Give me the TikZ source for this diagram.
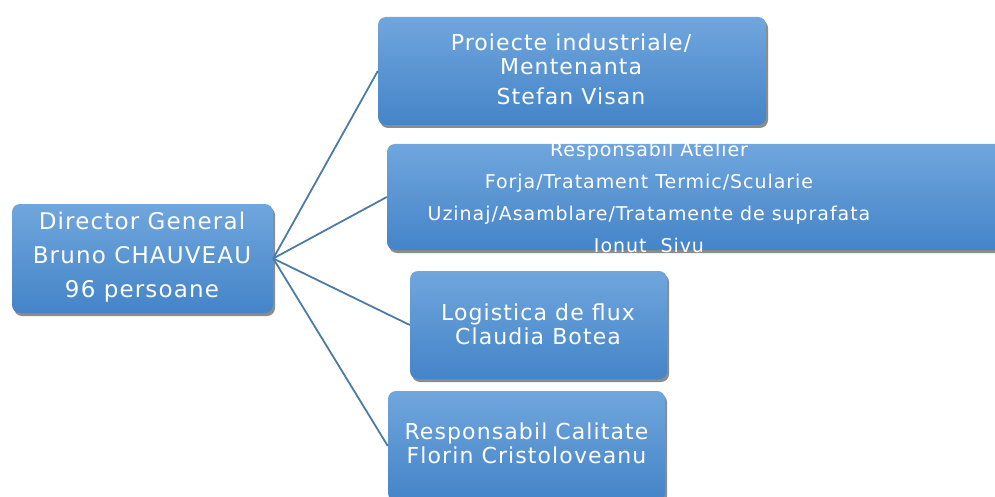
\documentclass[tikz,border=0pt]{standalone}
\usepackage{fontspec}
\setmainfont{DejaVu Sans}[LetterSpace=5]
\usepackage{tikz}
\usetikzlibrary{shadows}
\definecolor{boxtop}{RGB}{112,166,221}
\definecolor{boxbot}{RGB}{68,132,200}
\definecolor{linkcol}{RGB}{76,124,166}

\begin{document}
\begin{tikzpicture}[x=1pt,y=-1pt,
  card/.style={rectangle, rounded corners=8pt, top color=boxtop, bottom color=boxbot, inner sep=0pt,
    drop shadow={shadow xshift=2pt, shadow yshift=-3pt, fill=black, opacity=0.45}},
  txt/.style={text=white, align=center, inner sep=0pt, font=\fontsize{22}{24}\selectfont},
  link/.style={draw=linkcol, line width=1.8pt}]
\useasboundingbox (0,0) rectangle (995,497);
% Boxes
\node[card, minimum width=261pt, minimum height=109pt] (dir) at (142.5,258.5) {};
\node[card, minimum width=388pt, minimum height=108pt] (pro) at (572,71) {};
\node[card, minimum width=630pt, minimum height=106pt] (ate) at (702,197) {};
\node[card, minimum width=257pt, minimum height=108pt] (log) at (538.5,325) {};
\node[card, minimum width=277pt, minimum height=110pt] (cal) at (526.5,446) {};

%Lines
\draw[link] (dir.east) -- (pro.west);
\draw[link] (dir.east) -- (ate.west);
\draw[link] (dir.east) -- (log.west);
\draw[link] (dir.east) -- (cal.west);

% Texts
\node[txt, font=\fontsize{23}{34}\selectfont] (dirt) at (142,257) {Director General\\Bruno CHAUVEAU\\96 persoane};
\node[txt] (prot) at (571,69) {Proiecte industriale/\\Mentenanta\\[6pt]Stefan Visan};
\node[txt, font=\fontsize{19}{32}\selectfont] (atet) at (649,197.5) {Responsabil Atelier\\Forja/Tratament Termic/Scularie\\Uzinaj/Asamblare/Tratamente de suprafata\\Ionut\ \ Sivu};
\node[txt] (logt) at (538,324) {Logistica de flux\\Claudia Botea};
\node[txt] (calt) at (526.5,443) {Responsabil Calitate\\Florin Cristoloveanu};
\end{tikzpicture}
\end{document}
